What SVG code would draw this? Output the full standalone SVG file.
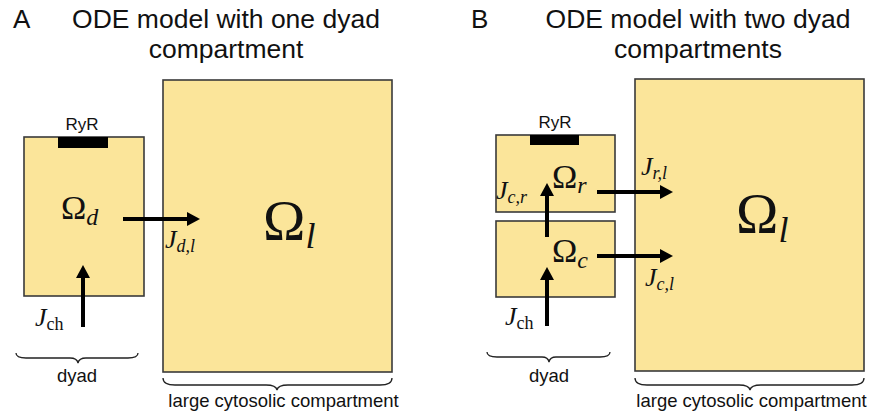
<svg xmlns="http://www.w3.org/2000/svg" width="879" height="413" viewBox="0 0 879 413">
  <style>
    .box { fill: #FBE59A; stroke: #3a3a3a; stroke-width: 1.6; }
    .ryr { fill: #000; }
    .flux { stroke: #000; stroke-width: 4; fill: none; marker-end: url(#head); }
    .brace { stroke: #222; stroke-width: 1.3; fill: none; }
    .sans { font-family: "Liberation Sans", Arial, sans-serif; fill: #111; }
    .title { font-size: 26.5px; text-anchor: middle; }
    .panel { font-size: 26px; }
    .lbl { font-size: 18.5px; text-anchor: middle; }
    .ryrt { font-size: 17px; text-anchor: middle; }
    .math { font-family: "Liberation Serif", "Times New Roman", serif; fill: #111; }
    .it { font-style: italic; }
  </style>
  <defs>
    <marker id="head" viewBox="0 -7 13 14" refX="0" refY="0" markerWidth="13" markerHeight="14" markerUnits="userSpaceOnUse" orient="auto">
      <path d="M0,-7 L13,0 L0,7 z" fill="#000"/>
    </marker>
  </defs>

  <!-- Panel A: one dyad compartment -->
  <text class="sans panel" x="13" y="28">A</text>
  <text class="sans title" x="226" y="28">ODE model with one dyad</text>
  <text class="sans title" x="226" y="58">compartment</text>

  <g id="A-cytosol">
    <rect class="box" x="163" y="80" width="229" height="292"/>
    <text class="math" x="263" y="240" font-size="57">Ω<tspan class="it" font-size="36" dy="8">l</tspan></text>
  </g>

  <g id="A-dyad">
    <rect class="box" x="24" y="137" width="120" height="159"/>
    <rect class="ryr" x="58" y="137" width="50" height="11"/>
    <text class="sans ryrt" x="82" y="130">RyR</text>
    <text class="math" x="61" y="219" font-size="34">Ω<tspan class="it" font-size="24" dy="6">d</tspan></text>
  </g>

  <g id="A-connectors">
    <line class="flux" x1="123" y1="219" x2="187" y2="219"/>
    <line class="flux" x1="83" y1="327" x2="83" y2="278"/>
    <text class="math" x="165" y="248" font-size="26"><tspan class="it">J</tspan><tspan class="it" font-size="18" dy="4">d,l</tspan></text>
    <text class="math" x="35" y="326" font-size="26"><tspan class="it">J</tspan><tspan font-size="18" dy="4">ch</tspan></text>
  </g>

  <g id="A-braces">
    <path class="brace" d="M16,353 Q16,358 26,358 L70,358 Q77,358 78,363 Q79,358 86,358 L128,358 Q138,358 138,353"/>
    <text class="sans lbl" x="77" y="382">dyad</text>
    <path class="brace" d="M163,378 Q163,385 175,385 L266,385 Q276,385 277,390 Q278,385 288,385 L380,385 Q392,385 392,378"/>
    <text class="sans lbl" x="283.5" y="407">large cytosolic compartment</text>
  </g>

  <!-- Panel B: two dyad compartments -->
  <text class="sans panel" x="471" y="28">B</text>
  <text class="sans title" x="698" y="28">ODE model with two dyad</text>
  <text class="sans title" x="698" y="58">compartments</text>

  <g id="B-cytosol">
    <rect class="box" x="635" y="79" width="229" height="292"/>
    <text class="math" x="736" y="233" font-size="57">Ω<tspan class="it" font-size="36" dy="9">l</tspan></text>
  </g>

  <g id="B-ryr-compartment">
    <rect class="box" x="496" y="135" width="119" height="77"/>
    <rect class="ryr" x="530" y="135" width="49" height="10"/>
    <text class="sans ryrt" x="555" y="128">RyR</text>
    <text class="math" x="552" y="188" font-size="34">Ω<tspan class="it" font-size="24" dy="5">r</tspan></text>
  </g>

  <g id="B-channel-compartment">
    <rect class="box" x="496" y="221" width="119" height="76"/>
    <text class="math" x="552" y="262" font-size="34">Ω<tspan class="it" font-size="24" dy="6">c</tspan></text>
  </g>

  <g id="B-connectors">
    <line class="flux" x1="597" y1="192" x2="660" y2="192"/>
    <line class="flux" x1="597" y1="256" x2="660" y2="256"/>
    <line class="flux" x1="547" y1="237" x2="547" y2="196"/>
    <line class="flux" x1="547" y1="326" x2="547" y2="280"/>
    <text class="math" x="641" y="175" font-size="26"><tspan class="it">J</tspan><tspan class="it" font-size="18" dy="4">r,l</tspan></text>
    <text class="math" x="645" y="286" font-size="26"><tspan class="it">J</tspan><tspan class="it" font-size="18" dy="4">c,l</tspan></text>
    <text class="math" x="496" y="199" font-size="26"><tspan class="it">J</tspan><tspan class="it" font-size="18" dy="4">c,r</tspan></text>
    <text class="math" x="505" y="325" font-size="26"><tspan class="it">J</tspan><tspan font-size="18" dy="4">ch</tspan></text>
  </g>

  <g id="B-braces">
    <path class="brace" d="M487,352 Q487,357 497,357 L542,357 Q548,357 549,362 Q550,357 556,357 L600,357 Q610,357 610,352"/>
    <text class="sans lbl" x="549" y="382">dyad</text>
    <path class="brace" d="M635,378 Q635,385 647,385 L739,385 Q749,385 750,390 Q751,385 761,385 L852,385 Q864,385 864,378"/>
    <text class="sans lbl" x="751.5" y="407">large cytosolic compartment</text>
  </g>
</svg>
